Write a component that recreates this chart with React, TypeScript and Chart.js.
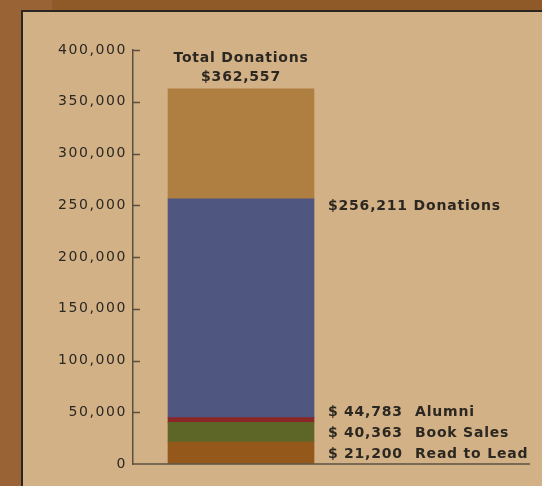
import React, { useEffect, useRef } from "react";
import { Chart, registerables } from "chart.js";

Chart.register(...registerables);

// ---- data ----
const categories = ["Total Donations"];
const segmentNames = ["Read to Lead", "Book Sales", "Alumni", "Donations", "Total"];
const segmentTops = [21200, 40363, 44783, 256211, 362557];
const segmentColors = ["#93581a", "#5e6627", "#8a2626", "#4f5780", "#ae7f41"];
const labelNames = ["Read to Lead", "Book Sales", "Alumni", "Donations"];
const labelValues = [21200, 40363, 44783, 256211];
const totalValue = 362557;
const yTicks = [0, 50000, 100000, 150000, 200000, 250000, 300000, 350000, 400000];

const INK = "#2b2721";
const AXIS = "#5b5040";

const fmt = (v: number) => v.toLocaleString("en-US");

const spacingPlugin = {
  id: "spacing",
  beforeLayout(chart: any) {
    chart.ctx.letterSpacing = "1.6px";
  },
  beforeDraw(chart: any) {
    chart.ctx.letterSpacing = "1.6px";
  },
};

const decoPlugin = {
  id: "deco",
  afterDatasetsDraw(chart: any) {
    const ctx = chart.ctx;
    const y = chart.scales.y;
    const x = chart.scales.x;
    const area = chart.chartArea;
    ctx.save();
    // inner tick marks
    ctx.strokeStyle = AXIS;
    ctx.lineWidth = 1.5;
    yTicks.forEach((t) => {
      const py = Math.round(y.getPixelForValue(t)) + 0.5;
      if (t === 0) return;
      ctx.beginPath();
      ctx.moveTo(area.left, py);
      ctx.lineTo(area.left + 7, py);
      ctx.stroke();
    });
    // baseline
    const by = y.getPixelForValue(0);
    ctx.beginPath();
    ctx.moveTo(area.left, by);
    ctx.lineTo(530, by);
    ctx.stroke();

    // labels
    const cx = x.getPixelForValue(0);
    const meta = chart.getDatasetMeta(segmentTops.length - 1);
    const topBar = meta.data[0];
    const barRight = topBar.x + topBar.width / 2;
    ctx.fillStyle = INK;
    ctx.textBaseline = "middle";
    ctx.font = "bold 14px 'DejaVu Sans'";
    ctx.letterSpacing = "0.8px";
    ctx.textAlign = "center";
    const topPx = y.getPixelForValue(totalValue);
    ctx.fillText(categories[0], cx, topPx - 30);
    ctx.fillText("$" + fmt(totalValue), cx, topPx - 11);

    ctx.textAlign = "left";
    const lx = barRight + 14;
    // Donations label aligned with its segment top
    const dIdx = 3;
    ctx.fillText(
      "$" + fmt(labelValues[dIdx]) + " " + labelNames[dIdx],
      lx,
      y.getPixelForValue(labelValues[dIdx]) + 8
    );
    // lower labels stacked
    const by0 = by - 10;
    const rows = [2, 1, 0];
    rows.forEach((i, k) => {
      const ry = by0 - (2 - k) * 21;
      ctx.fillText("$", lx, ry);
      ctx.fillText(fmt(labelValues[i]), lx + 16, ry);
      ctx.fillText(labelNames[i], lx + 87, ry);
    });
    ctx.restore();
  },
};

export default function App() {
  const ref = useRef<HTMLCanvasElement>(null);
  useEffect(() => {
    const datasets = segmentTops.map((top, i) => ({
      label: segmentNames[i],
      data: [[i === 0 ? 0 : segmentTops[i - 1], top]],
      backgroundColor: segmentColors[i],
      borderWidth: 0,
      barThickness: 146,
      grouped: false,
    }));
    const chart = new Chart(ref.current as HTMLCanvasElement, {
      type: "bar",
      data: { labels: categories, datasets: datasets as any },
      options: {
        animation: false,
        responsive: false,
        devicePixelRatio: 1,
        layout: { padding: { top: 50, right: 193, bottom: 22, left: 0 } },
        plugins: { legend: { display: false }, tooltip: { enabled: false } },
        scales: {
          x: { display: false },
          y: {
            min: 0,
            max: 400000,
            afterBuildTicks: (s: any) => {
              s.ticks = yTicks.map((v) => ({ value: v }));
            },
            afterFit: (s: any) => {
              s.width = 133;
            },
            border: { display: true, color: AXIS, width: 1.5 },
            grid: { drawOnChartArea: false, drawTicks: false },
            ticks: {
              padding: 6,
              color: INK,
              font: { family: "'DejaVu Sans'", size: 14 },
              callback: (v: any) => fmt(Number(v)),
            },
          },
        },
      },
      plugins: [spacingPlugin, decoPlugin],
    });
    return () => chart.destroy();
  }, []);
  return (
    <div style={{ position: "fixed", left: 0, top: 0, width: 542, height: 486, background: "#8f5a28", overflow: "hidden" }}>
      <div style={{ position: "absolute", left: 0, top: 0, width: 52, height: 486, background: "#9a6336" }} />
      <div
        style={{
          position: "absolute",
          left: 21,
          top: 10,
          width: 560,
          height: 520,
          background: "#d3b186",
          borderLeft: "2px solid #2a2520",
          borderTop: "2px solid #2a2520",
        }}
      />
      <canvas ref={ref} width={542} height={486} style={{ position: "absolute", left: 0, top: 0 }} />
    </div>
  );
}
